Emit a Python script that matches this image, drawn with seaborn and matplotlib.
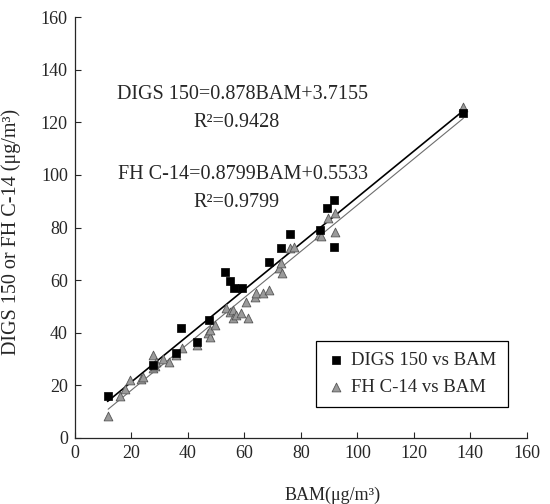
import matplotlib
matplotlib.use("Agg")
import matplotlib.pyplot as plt
import seaborn as sns
import pandas as pd
import numpy as np

# DIGS 150 vs BAM
digs_bam = [11.6, 27.7, 35.7, 37.7, 43.2, 47.4, 53.0, 54.8, 56.3, 59.1,
            68.6, 73.0, 76.0, 86.7, 89.4, 91.7, 91.8, 137.5]
digs_val = [16.0, 27.8, 32.2, 41.9, 36.6, 44.7, 63.2, 59.7, 56.9, 56.9,
            67.0, 72.1, 77.6, 79.0, 87.6, 90.5, 72.7, 123.5]

# FH C-14 vs BAM
fh_bam = [11.8, 15.9, 17.7, 19.4, 23.4, 24.2, 27.7, 28.3, 27.7, 28.8,
          31.2, 33.3, 35.7, 38.0, 43.2, 47.3, 47.7, 47.7, 49.5, 53.6,
          54.8, 55.9, 55.9, 57.0, 58.9, 60.7, 61.2, 63.6, 64.2, 66.5,
          68.7, 72.4, 73.0, 73.4, 76.0, 77.7, 86.6, 87.2, 89.5, 92.1,
          92.1, 137.5]
fh_val = [8.4, 16.0, 18.5, 22.0, 22.4, 23.3, 26.7, 27.5, 31.5, 28.9,
          30.0, 28.9, 31.4, 34.3, 35.5, 39.8, 38.5, 41.0, 43.0, 49.3,
          48.0, 48.7, 45.5, 46.7, 47.4, 51.8, 45.5, 53.7, 55.0, 55.0,
          56.3, 64.5, 66.4, 62.6, 72.1, 72.7, 77.2, 76.8, 83.8, 85.5,
          78.4, 126.0]

# regression coefficients (slope, intercept)
digs_fit = (0.878, 3.7155)
fh_fit = (0.8799, 0.5533)

ticks = [0, 20, 40, 60, 80, 100, 120, 140, 160]

sns.set_style("ticks")
plt.rcParams["font.family"] = ["Liberation Serif", "DejaVu Serif"]
plt.rcParams["xtick.direction"] = "in"
plt.rcParams["ytick.direction"] = "in"

fig = plt.figure(figsize=(5.5, 5.04), dpi=100)
ax = fig.add_axes([0.136, 0.131, 0.958 - 0.136, 0.966 - 0.131])

df_d = pd.DataFrame({"BAM": digs_bam, "val": digs_val})
df_f = pd.DataFrame({"BAM": fh_bam, "val": fh_val})

# regression lines
xd = np.array([min(digs_bam), max(digs_bam)])
xf = np.array([min(fh_bam), max(fh_bam)])
sns.lineplot(x=xf, y=fh_fit[0] * xf + fh_fit[1], ax=ax, color="#6e6e6e",
             linewidth=0.8, legend=False)
sns.lineplot(x=xd, y=digs_fit[0] * xd + digs_fit[1], ax=ax, color="black",
             linewidth=1.2, legend=False)

sns.scatterplot(data=df_f, x="BAM", y="val", ax=ax, marker="^", s=40,
                color="#9a9a9a", edgecolor="#555555", linewidth=0.6,
                label="FH C-14 vs BAM", zorder=3)
sns.scatterplot(data=df_d, x="BAM", y="val", ax=ax, marker="s", s=30,
                color="black", edgecolor="black", linewidth=0.5,
                label="DIGS 150 vs BAM", zorder=4)

ax.set_xlim(0, 160)
ax.set_ylim(0, 160)
ax.set_xticks(ticks)
ax.set_yticks(ticks)
ax.tick_params(axis="both", labelsize=13, length=4, width=0.8, pad=5)
for s in ["top", "right"]:
    ax.spines[s].set_visible(False)
for s in ["left", "bottom"]:
    ax.spines[s].set_linewidth(0.9)

ax.set_xlabel("BAM(μg/m³)", fontsize=13)
ax.set_ylabel("DIGS 150 or FH C-14 (μg/m³)", fontsize=14.5)
ax.xaxis.set_label_coords(0.57, -0.115)
ax.yaxis.set_label_coords(-0.12, 0.49)

eq_fs = 14.5
ax.text(59.5, 130.4, "DIGS 150=0.878BAM+3.7155", fontsize=eq_fs,
        ha="center", va="center")
ax.text(57.4, 119.8, "R²=0.9428", fontsize=eq_fs, ha="center", va="center")
ax.text(59.5, 100.0, "FH C-14=0.8799BAM+0.5533", fontsize=eq_fs,
        ha="center", va="center")
ax.text(57.4, 89.4, "R²=0.9799", fontsize=eq_fs, ha="center", va="center")

h, l = ax.get_legend_handles_labels()
order = [l.index("DIGS 150 vs BAM"), l.index("FH C-14 vs BAM")]
leg = ax.legend([h[i] for i in order], [l[i] for i in order],
                loc="lower right", bbox_to_anchor=(0.958, 0.074),
                borderaxespad=0, fontsize=13.5, frameon=True, fancybox=False,
                edgecolor="black", framealpha=1, handletextpad=0.3,
                borderpad=0.6, labelspacing=0.5, handlelength=1.0)
leg.get_frame().set_linewidth(0.9)

fig.savefig("out.png", dpi=100)
